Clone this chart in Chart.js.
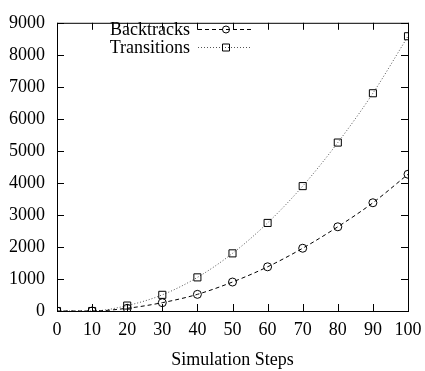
<!DOCTYPE html>
<html>
<head>
<meta charset="utf-8">
<script src="https://cdn.jsdelivr.net/npm/chart.js@4/dist/chart.umd.min.js"></script>
<style>
  html, body { margin: 0; padding: 0; background: #fff; }
  #wrap { width: 425px; height: 371px; }
</style>
</head>
<body>
<div id="wrap"><canvas id="chart" width="425" height="371"></canvas></div>
<script>
// simulation data
const steps = [0, 10, 20, 30, 40, 50, 60, 70, 80, 90, 100];
const backtracks = [0, 0, 85, 260, 520, 905, 1380, 1960, 2630, 3380, 4270];
const transitions = [0, 0, 170, 505, 1050, 1800, 2750, 3900, 5260, 6800, 8580];
const seriesNames = ['Backtracks', 'Transitions'];
const xTicks = [0, 10, 20, 30, 40, 50, 60, 70, 80, 90, 100];
const yTicks = [0, 1000, 2000, 3000, 4000, 5000, 6000, 7000, 8000, 9000];

const FONT = '"Liberation Serif", "DejaVu Serif", serif';
const TICK = 7;

// frame + inward ticks on all four sides (gnuplot style)
const framePlugin = {
    id: 'frame',
    afterDatasetsDraw(chart) {
        const { ctx, chartArea: a, scales } = chart;
        ctx.save();
        ctx.strokeStyle = '#000';
        ctx.lineWidth = 1;
        ctx.setLineDash([]);
        ctx.strokeRect(a.left + 0.5, a.top + 0.5, a.right - a.left, a.bottom - a.top);
        ctx.beginPath();
        xTicks.forEach(v => {
            const x = Math.round(scales.x.getPixelForValue(v)) + 0.5;
            ctx.moveTo(x, a.bottom); ctx.lineTo(x, a.bottom - TICK);
            ctx.moveTo(x, a.top); ctx.lineTo(x, a.top + TICK);
        });
        yTicks.forEach(v => {
            const y = Math.round(scales.y.getPixelForValue(v)) + 0.5;
            ctx.moveTo(a.left, y); ctx.lineTo(a.left + TICK, y);
            ctx.moveTo(a.right, y); ctx.lineTo(a.right - TICK, y);
        });
        ctx.stroke();
        ctx.restore();
    }
};

// legend inside the plot, text right-aligned then a line sample
const keyPlugin = {
    id: 'key',
    afterDatasetsDraw(chart) {
        const { ctx } = chart;
        ctx.save();
        ctx.font = '18px ' + FONT;
        ctx.textAlign = 'right';
        ctx.textBaseline = 'middle';
        chart.data.datasets.forEach((ds, i) => {
            const y = 29 + i * 18;
            ctx.fillStyle = '#000';
            ctx.fillText(ds.label, 190, y + 1);
            ctx.strokeStyle = ds.borderColor;
            ctx.lineWidth = 1;
            ctx.setLineDash(ds.borderDash);
            ctx.beginPath();
            ctx.moveTo(198, y + 0.5); ctx.lineTo(252, y + 0.5);
            ctx.stroke();
            ctx.setLineDash([]);
            ctx.strokeStyle = '#000';
            ctx.beginPath();
            if (ds.pointStyle === 'circle') {
                ctx.arc(226, y + 0.5, 3.5, 0, Math.PI * 2);
            } else {
                ctx.rect(222.5, y - 3, 7, 7);
            }
            ctx.stroke();
        });
        ctx.restore();
    }
};

new Chart(document.getElementById('chart'), {
    type: 'line',
    data: {
        datasets: [
            {
                label: seriesNames[0],
                data: steps.map((s, i) => ({ x: s, y: backtracks[i] })),
                borderColor: '#000',
                borderWidth: 1,
                borderDash: [4, 3],
                pointStyle: 'circle',
                pointRadius: 4,
                pointBorderColor: '#000',
                pointBackgroundColor: 'rgba(0,0,0,0)',
                pointBorderWidth: 1,
                cubicInterpolationMode: 'monotone',
                fill: false
            },
            {
                label: seriesNames[1],
                data: steps.map((s, i) => ({ x: s, y: transitions[i] })),
                borderColor: '#555',
                borderWidth: 1,
                borderDash: [1, 2],
                pointStyle: 'rect',
                pointRadius: 5,
                pointBorderColor: '#000',
                pointBackgroundColor: 'rgba(0,0,0,0)',
                pointBorderWidth: 1,
                cubicInterpolationMode: 'monotone',
                fill: false
            }
        ]
    },
    options: {
        responsive: false,
        animation: false,
        layout: { padding: { top: 13, right: 17, left: 0, bottom: 0 } },
        plugins: {
            legend: { display: false },
            tooltip: { enabled: false }
        },
        scales: {
            x: {
                type: 'linear',
                min: 0,
                max: 100,
                afterBuildTicks: s => { s.ticks = xTicks.map(v => ({ value: v })); },
                afterFit: s => { s.height = 60; },
                grid: { display: false },
                border: { display: false },
                ticks: {
                    color: '#000', font: { family: FONT, size: 18 }, padding: 0, maxRotation: 0,
                    callback: v => String(v)
                },
                title: {
                    display: true,
                    text: 'Simulation Steps',
                    color: '#000',
                    font: { family: FONT, size: 18 },
                    padding: { top: 6, bottom: 0 }
                }
            },
            y: {
                min: 0,
                max: 9000,
                afterBuildTicks: s => { s.ticks = yTicks.map(v => ({ value: v })); },
                afterFit: s => { s.width = 57; },
                grid: { display: false, drawTicks: false },
                border: { display: false },
                ticks: {
                    color: '#000', font: { family: FONT, size: 18 }, padding: 12,
                    callback: v => String(v)
                }
            }
        }
    },
    plugins: [framePlugin, keyPlugin]
});
</script>
</body>
</html>
